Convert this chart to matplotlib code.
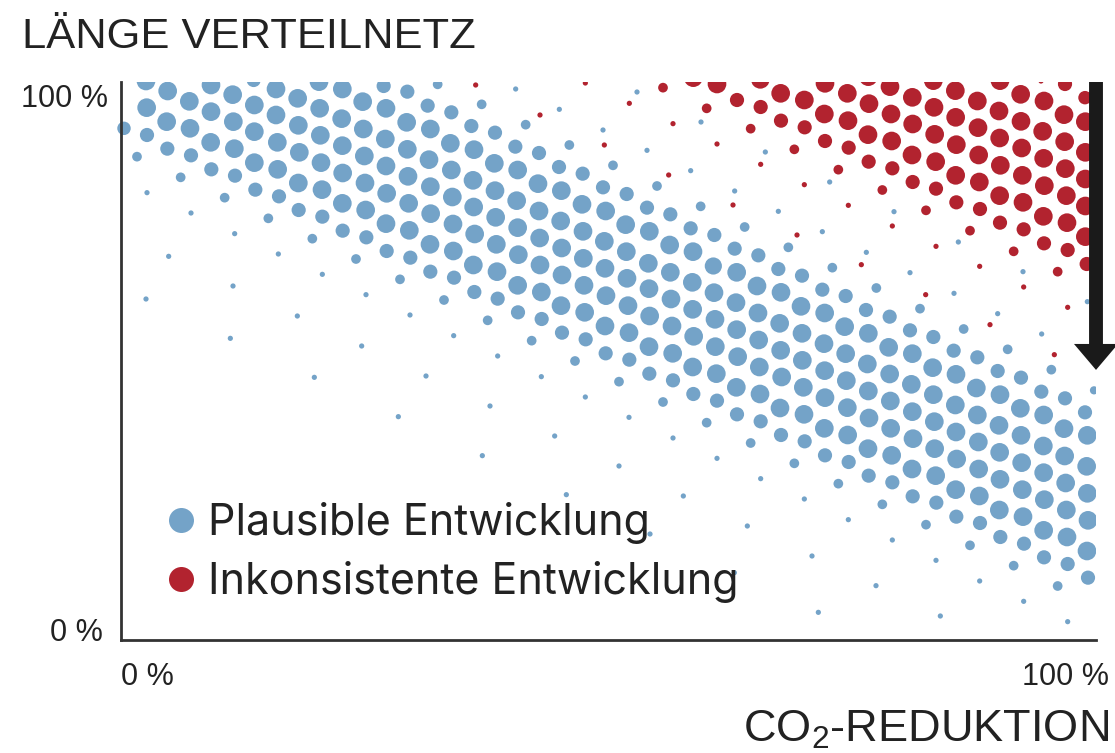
"""Dot grid: length of the distribution network against CO2 reduction."""

import matplotlib

matplotlib.use("Agg")

import matplotlib.pyplot as plt
import numpy as np
from matplotlib.lines import Line2D
from matplotlib.patches import FancyArrowPatch
from matplotlib.transforms import Bbox, TransformedBbox

blue_top_left = [
    (108,18,50),(173,48,50),(238,79,50),(303,30,50),(368,59,50),(433,90,50),(431,15,38),(498,42,50),(563,70,50),
    (629,100,50),(627,20,50),(697,42,50),(758,80,50),(828,100,50),(821,33,38),(892,50,38),(953,92,38),(983,28,26),
    (110,98,50),(170,140,50),(240,160,50),(303,110,50),(370,140,50),(433,170,50),(498,120,50),(565,151,50),
    (631,181,50),(695,131,50),(760,162,50),(826,192,50),(890,142,50),(961,162,50),
    (42,160,36),(111,180,38),(172,221,38),(243,241,38),(302,202,50),(373,221,50),(433,263,50),(502,202,50),
    (568,232,50),(633,263,50),(697,212,50),(763,243,50),(828,273,50),(892,223,50),(957,254,50),
    (81,245,26),(304,283,38),(375,302,38),(212,307,26),(436,344,38),(503,283,50),(565,324,50),(636,344,50),
    (698,294,50),(765,324,50),(830,355,50),(894,304,50),(961,335,50),
    (111,353,14),(344,368,26),(507,364,38),(566,405,38),(637,425,38),(697,385,50),(767,405,50),(828,446,50),
    (896,385,50),(962,416,50),(898,466,50),(960,508,50),
    (243,414,14),(475,430,26),(698,467,38),(769,487,38),(830,528,38),(901,548,38),(607,491,26),(374,476,14),
    (505,537,14),(738,552,26),(176,544,14),
]
blue_top_middle = [
    (227,42,14),(125,88,26),(591,51,14),(358,103,14),(34,112,38),(94,153,38),(165,173,38),(257,149,26),(489,165,14),
    (783,141,14),(31,205,50),(102,224,50),(226,215,38),(297,234,38),(388,210,26),(621,226,14),(976,231,14),
    (34,285,50),(99,316,50),(163,265,50),(233,285,50),(357,276,38),(428,296,38),(519,271,26),(752,287,14),
    (37,366,50),(101,396,50),(165,347,50),(230,377,50),(294,326,50),(364,347,50),(489,337,38),(560,357,38),
    (651,333,26),(884,348,14),(39,447,50),(104,477,50),(167,427,50),(233,458,50),(297,408,50),(362,438,50),
    (426,388,50),(497,408,50),(621,398,38),(691,418,38),(782,394,26),(40,528,50),(169,508,50),(235,539,50),
    (299,489,50),(365,519,50),(429,469,50),(493,499,50),(557,449,50),(628,469,50),(752,460,38),(823,480,38),
    (914,456,26),(430,550,50),(559,530,50),(689,510,50),(759,530,50),(884,521,38),(955,541,38),
]
blue_top_right = [(179,321,14),(25,409,14),(372,410,14),(157,470,14),(565,501,14),(289,532,14),(55,517,26)]
blue_mid_left = [
    (637,43,14),(369,78,14),(108,117,14),(768,104,14),(562,168,14),(900,165,14),(361,235,14),(755,258,14),
    (613,352,14),(948,348,14),(865,470,14),(870,58,26),(961,35,38),
]
blue_mid_middle = [
    (100,15,50),(300,15,50),(171,35,50),(625,10,50),(495,25,50),(366,45,50),(561,55,50),(691,37,50),(820,18,46),
    (890,37,50),(42,53,38),(233,76,50),(304,96,50),(432,76,50),(498,107,50),(627,86,50),(757,67,50),(951,78,50),
    (822,98,50),(103,96,38),(173,116,38),(12,120,26),(363,137,50),(434,157,50),(564,137,50),(693,117,50),
    (888,128,50),(758,148,50),(954,159,50),(234,157,38),(305,177,38),(143,181,26),(495,198,50),(567,218,50),
    (629,168,50),(696,198,50),(825,178,50),(890,209,50),(956,240,50),(41,227,14),(366,218,38),(437,238,38),
    (275,242,26),(761,229,50),(627,260,50),(698,280,50),(826,260,50),(893,290,50),(958,321,50),(173,288,14),
    (405,303,26),(497,280,38),(568,299,38),(758,321,50),(829,341,50),(889,382,50),(960,402,50),(304,350,14),
    (537,365,26),(628,341,38),(699,361,38),(760,402,38),(831,422,38),(436,411,14),(669,426,26),(891,463,38),
    (962,484,38),(150,438,14),(567,472,14),(800,488,26),(344,528,14),(699,534,14),(932,549,26),
]
blue_mid_right = [
    (25,27,38),(96,47,38),(187,23,26),(420,38,14),(759,35,14),(33,97,50),(157,89,38),(227,108,38),(319,84,26),
    (552,100,14),(93,139,50),(164,159,50),(288,150,38),(359,170,38),(450,146,26),(683,161,14),(952,125,14),
    (29,190,50),(96,220,50),(224,200,50),(295,220,50),(420,211,38),(490,231,38),(581,207,26),(815,222,14),
    (32,271,50),(97,301,50),(162,251,50),(227,281,50),(356,262,50),(427,281,50),(551,272,38),(622,292,38),
    (713,268,26),(35,351,50),(100,382,50),(164,332,50),(229,362,50),(292,312,50),(359,342,50),(488,323,50),
    (558,343,50),(683,333,38),(753,353,38),(844,329,26),(30,444,50),(102,463,50),(165,413,50),(232,443,50),
    (295,393,50),(361,423,50),(424,373,50),(490,404,50),(619,384,50),(690,404,50),(814,395,38),(885,415,38),
    (972,391,22),(33,525,38),(104,544,38),(163,505,50),(233,525,50),(297,474,50),(362,505,50),(427,455,50),
    (493,485,50),(556,435,50),(622,465,50),(751,445,50),(821,465,50),(945,457,38),(429,536,50),(558,516,50),
    (625,546,50),(687,496,50),(753,526,50),(882,506,50),(952,526,50),
]
blue_low_middle = [
    (127,47,14),(537,78,14),(831,55,14),(962,116,14),(379,164,14),(730,168,14),(922,258,14),(630,282,14),(883,398,14),
]
blue_low_right = [
    (294,26,50),(365,46,50),(494,26,50),(560,57,50),(689,37,50),(820,18,50),(884,48,50),(950,79,50),(73,70,26),
    (165,46,38),(236,66,38),(426,87,50),(497,107,50),(626,87,50),(755,68,50),(821,98,50),(887,129,50),(952,160,50),
    (205,131,26),(296,107,38),(367,127,38),(557,149,50),(690,118,50),(628,168,50),(757,149,50),(823,179,50),
    (889,210,50),(954,241,50),(103,177,14),(428,169,38),(499,188,38),(337,193,26),(688,210,50),(759,230,50),
    (821,271,50),(891,291,50),(951,333,50),(235,239,14),(559,230,38),(630,249,38),(468,254,26),(691,291,38),
    (762,311,38),(367,300,14),(600,316,26),(822,352,38),(893,372,38),(954,413,38),(731,377,26),(126,348,14),
    (498,361,14),(863,438,26),(629,423,14),(318,437,14),(761,484,14),(145,517,14),(511,528,14),(893,545,14),
]
red_top_middle = [
    (107,30,14),(436,24,14),(300,120,14),(568,85,14),(669,38,26),(760,8,50),(831,27,50),(891,75,38),(800,100,26),
    (961,13,50),(962,96,38),(932,161,26),(699,146,14),(493,210,14),(831,207,14),(962,268,14),(686,300,14),(879,390,14),
]
red_top_right = [
    (165,25,50),(295,5,50),(360,35,50),(490,17,50),(556,47,50),(690,17,50),(885,27,38),(813,18,14),(32,55,50),
    (103,75,50),(232,55,50),(297,86,50),(427,67,50),(622,78,50),(752,58,50),(822,78,50),(945,68,36),(492,97,50),
    (33,137,38),(163,117,50),(234,137,50),(363,117,50),(428,147,50),(557,127,50),(687,108,50),(753,139,50),
    (882,119,50),(946,140,50),(104,157,38),(294,179,50),(494,178,50),(624,158,50),(818,169,50),(365,198,50),
    (689,189,50),(884,200,50),(946,232,50),(165,198,38),(559,209,50),(755,219,50),(73,223,26),(236,218,38),
    (426,240,50),(626,240,50),(821,250,50),(497,260,50),(691,271,50),(886,281,50),(946,312,50),(205,284,26),
    (296,260,38),(367,280,38),(557,301,50),(757,301,50),(628,321,50),(823,332,50),(428,321,38),(498,341,38),
    (103,329,14),(337,345,26),(689,362,50),(759,382,50),(889,362,50),(946,393,50),(559,382,38),(630,402,38),
    (468,406,26),(235,391,14),(820,424,50),(891,443,50),(690,443,38),(761,463,38),(946,485,50),(600,467,26),
    (367,453,14),(81,480,14),(822,505,38),(893,525,38),(731,529,26),(498,514,14),
]
red_mid_right = [
    (274,14,14),(629,19,14),(863,35,26),(950,12,38),(761,81,14),(467,104,14),(893,142,14),(660,194,14),(853,284,14),
]

# Where each tile starts in the reference, and the tile zoom.
TILE_ZOOM = 3
tile_origin = {
    "top_left": (110, 75), "top_middle": (440, 75), "top_right": (770, 75),
    "mid_left": (110, 260), "mid_middle": (440, 260), "mid_right": (770, 260),
    "low_middle": (440, 440), "low_right": (770, 440),
}
AXIS_X0, AXIS_X1 = 121, 1096
AXIS_Y0, AXIS_Y1 = 640, 82

BLUE = "#74a3c8"
RED = "#b2232f"
INK = "#222222"


def to_percent(tiles):
    # tile readings -> percent on both axes, plus dot diameter in points
    rows = []
    for name, dots in tiles:
        ox, oy = tile_origin[name]
        for across, down, size in dots:
            px = ox + across / TILE_ZOOM
            py = oy + down / TILE_ZOOM
            rows.append(((px - AXIS_X0) / (AXIS_X1 - AXIS_X0) * 100,
                         (AXIS_Y0 - py) / (AXIS_Y0 - AXIS_Y1) * 100,
                         size * 1.12 / TILE_ZOOM * 0.72))
    return np.array(rows)


blue = to_percent([
    ("top_left", blue_top_left), ("top_middle", blue_top_middle), ("top_right", blue_top_right),
    ("mid_left", blue_mid_left), ("mid_middle", blue_mid_middle), ("mid_right", blue_mid_right),
    ("low_middle", blue_low_middle), ("low_right", blue_low_right),
])
red = to_percent([("top_middle", red_top_middle), ("top_right", red_top_right), ("mid_right", red_mid_right)])

plt.rcParams["font.family"] = ["Liberation Sans", "DejaVu Sans"]
plt.rcParams["mathtext.fontset"] = "custom"
plt.rcParams["mathtext.rm"] = "Liberation Sans"
plt.rcParams["mathtext.default"] = "rm"

W, H = 1115, 753
fig = plt.figure(figsize=(W / 100, H / 100), dpi=100)
ax = fig.add_axes([AXIS_X0 / W, 1 - AXIS_Y0 / H, (AXIS_X1 - AXIS_X0) / W, (AXIS_Y0 - AXIS_Y1) / H])
ax.set_xlim(0, 100)
ax.set_ylim(0, 100)

# dots may poke out left of the axis line, but are cut off at the top
clip = TransformedBbox(Bbox([[-1, 0], [100, 100]]), ax.transData)
for dots, color in ((blue, BLUE), (red, RED)):
    sc = ax.scatter(dots[:, 0], dots[:, 1], s=dots[:, 2] ** 2, color=color, linewidths=0, zorder=1)
    sc.set_clip_box(clip)

for side in ("top", "right"):
    ax.spines[side].set_visible(False)
for side in ("left", "bottom"):
    ax.spines[side].set_linewidth(2.0)
    ax.spines[side].set_color("#333333")
ax.set_xticks([])
ax.set_yticks([])

arrow = FancyArrowPatch(
    (100, 100), (100, 48.4), arrowstyle="simple,head_length=18.7,head_width=31.7,tail_width=10",
    mutation_scale=1, color="#1a1a1a", linewidth=0, shrinkA=0, shrinkB=0, zorder=5, clip_on=False,
)
ax.add_patch(arrow)

handles = [
    Line2D([], [], ls="none", marker="o", ms=18, mew=0, color=BLUE),
    Line2D([], [], ls="none", marker="o", ms=18, mew=0, color=RED),
]
ax.legend(
    handles, ["Plausible Entwicklung", "Inkonsistente Entwicklung"], loc="lower left",
    bbox_to_anchor=(161 / W, 1 - 603 / H), bbox_transform=fig.transFigure, frameon=False,
    prop={"family": "Inter", "size": 31}, handlelength=0.94, labelspacing=0.40, handletextpad=0.14,
    borderpad=0, borderaxespad=0, labelcolor=INK,
)

fig.text(22 / W, 1 - 48 / H, "LÄNGE VERTEILNETZ", fontsize=31.3, color=INK, ha="left", va="baseline")
fig.text(108 / W, 1 - 107 / H, "100 %", fontsize=22, color=INK, ha="right", va="baseline")
fig.text(103 / W, 1 - 641 / H, "0 %", fontsize=22, color=INK, ha="right", va="baseline")
fig.text(121 / W, 1 - 685 / H, "0 %", fontsize=22, color=INK, ha="left", va="baseline")
fig.text(1109 / W, 1 - 685 / H, "100 %", fontsize=22, color=INK, ha="right", va="baseline")
fig.text(1109 / W, 1 - 742 / H, "CO$_2$-REDUKTION", fontsize=32.5, color=INK, ha="right", va="baseline")

fig.savefig("out.png", dpi=100)
